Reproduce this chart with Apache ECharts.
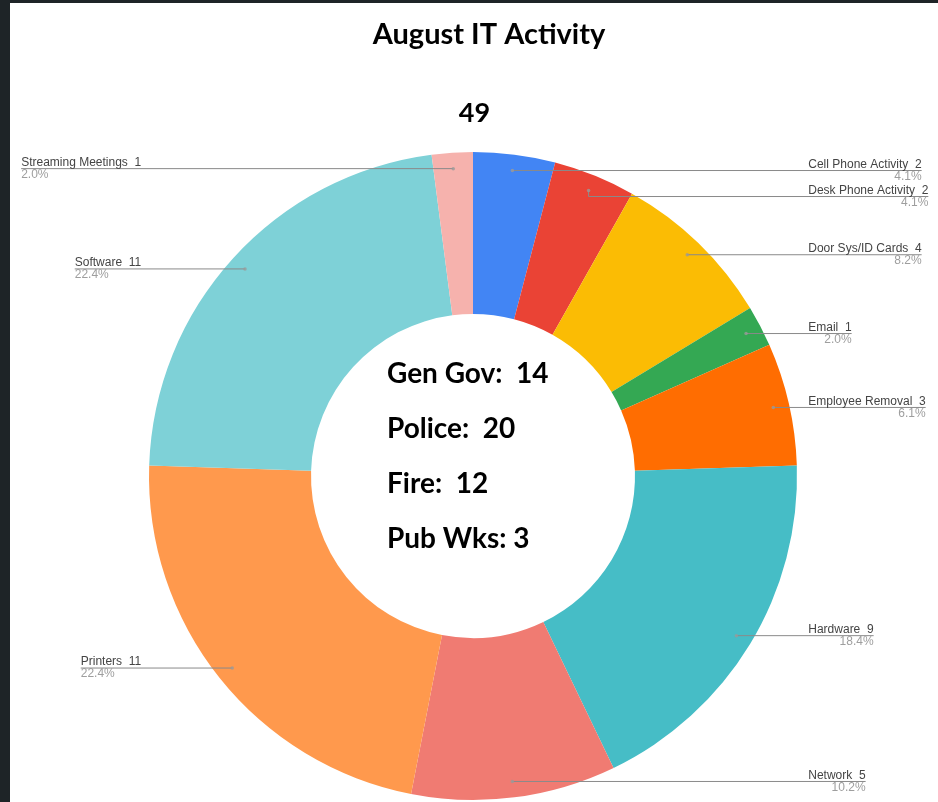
<!DOCTYPE html>
<html><head><meta charset="utf-8">
<script src="https://cdn.jsdelivr.net/npm/echarts@6/dist/echarts.min.js"></script>
<style>
html,body{margin:0;padding:0;width:938px;height:802px;background:#1e2427;overflow:hidden}
#chart{position:absolute;left:10px;top:3px;width:928px;height:799px;background:#fff}
</style></head><body><div id="chart"></div>
<script>
const categories = ['Cell Phone Activity','Desk Phone Activity','Door Sys/ID Cards','Email','Employee Removal','Hardware','Network','Printers','Software','Streaming Meetings'];
const counts = [2,2,4,1,3,9,5,11,11,1];
const sliceColors = ['#4285f4','#ea4335','#fbbc04','#34a853','#ff6d01','#46bdc6','#f07b72','#ff994d','#7ed1d7','#f6b2ad'];
const chartTitle = 'August IT Activity';
const totalLabel = '49';
const departmentLines = ['Gen Gov:  14','Police:  20','Fire:  12','Pub Wks: 3'];

const total = counts.reduce((a,b)=>a+b,0);
let cum = 0;
const mids = [];
const sides = counts.map(v => { const mid = cum + v/2; mids.push(mid); cum += v; return mid/total < 0.5 ? 'right' : 'left'; });

const CENTER = [463, 473];
const labelFont = '"Liberation Sans", Arial, sans-serif';

const pieData = categories.map((n,i)=>({name:n, value:counts[i], itemStyle:{color:sliceColors[i]}}));
const labelData = categories.map((n,i)=>({
  name:n, value:counts[i],
  label:{rich:{
    n:{fontSize:12, lineHeight:12, color:'#444', fontFamily:labelFont, align:'left'},
    p:{fontSize:12, lineHeight:12, color:'#9e9e9e', fontFamily:labelFont, align: sides[i]==='right'?'right':'left'}
  }},
  labelLine:{length2: sides[i]==='right'?35:91}
}));
const dotData = mids.map(m => [1, m]);

const chart = echarts.init(document.getElementById('chart'));
chart.setOption({
  animation:false,
  backgroundColor:'#fff',
  polar:{center:CENTER, radius:[0,308]},
  angleAxis:{type:'value', min:0, max:total, startAngle:90, clockwise:true, show:false},
  radiusAxis:{type:'value', min:0, max:1, show:false},
  graphic:[
    {type:'text', x:479, y:32, z:10, style:{text:chartTitle, font:'bold 29px Lato', fill:'#000', align:'center', verticalAlign:'middle'}},
    {type:'text', x:464.5, y:110, z:10, style:{text:totalLabel, font:'bold 27px Lato', fill:'#000', align:'center', verticalAlign:'middle'}},
    {type:'text', x:377, y:343, z:10, style:{text:departmentLines.join('\n'), font:'bold 28px Lato', lineHeight:55, fill:'#000', align:'left', verticalAlign:'top'}}
  ],
  series:[
    {
      type:'pie', center:CENTER, radius:[162,324], startAngle:90, clockwise:true,
      silent:true, label:{show:false}, labelLine:{show:false},
      emphasis:{disabled:true},
      data:pieData
    },
    {
      type:'pie', center:CENTER, radius:[0,308], startAngle:90, clockwise:true,
      silent:true, z:5,
      itemStyle:{color:'rgba(0,0,0,0)', borderWidth:0},
      emphasis:{disabled:true},
      avoidLabelOverlap:true,
      label:{
        show:true, position:'outer', alignTo:'labelLine', distanceToLabelLine:0, bleedMargin:0,
        formatter: p => '{n|' + p.name + '  ' + p.value + '}\n{p|' + (p.value/total*100).toFixed(1) + '%}'
      },
      labelLine:{show:true, length:0, length2:35, minTurnAngle:0, maxSurfaceAngle:180, lineStyle:{color:'#8a8a8a', width:1}},
      labelLayout: function(params){
        const pts = params.labelLinePoints;
        if (!pts) return {};
        const r = params.labelRect;
        const end = pts[2];
        const farX = end[0] > CENTER[0] ? r.x + r.width : r.x;
        return { labelLinePoints: [pts[0], pts[1], [farX, end[1]]] };
      },
      data:labelData
    },
    {
      type:'scatter', coordinateSystem:'polar', silent:true, z:6,
      symbol:'circle', symbolSize:3.5,
      itemStyle:{color:'#9a9a9a'},
      data:dotData
    }
  ]
});
</script></body></html>
